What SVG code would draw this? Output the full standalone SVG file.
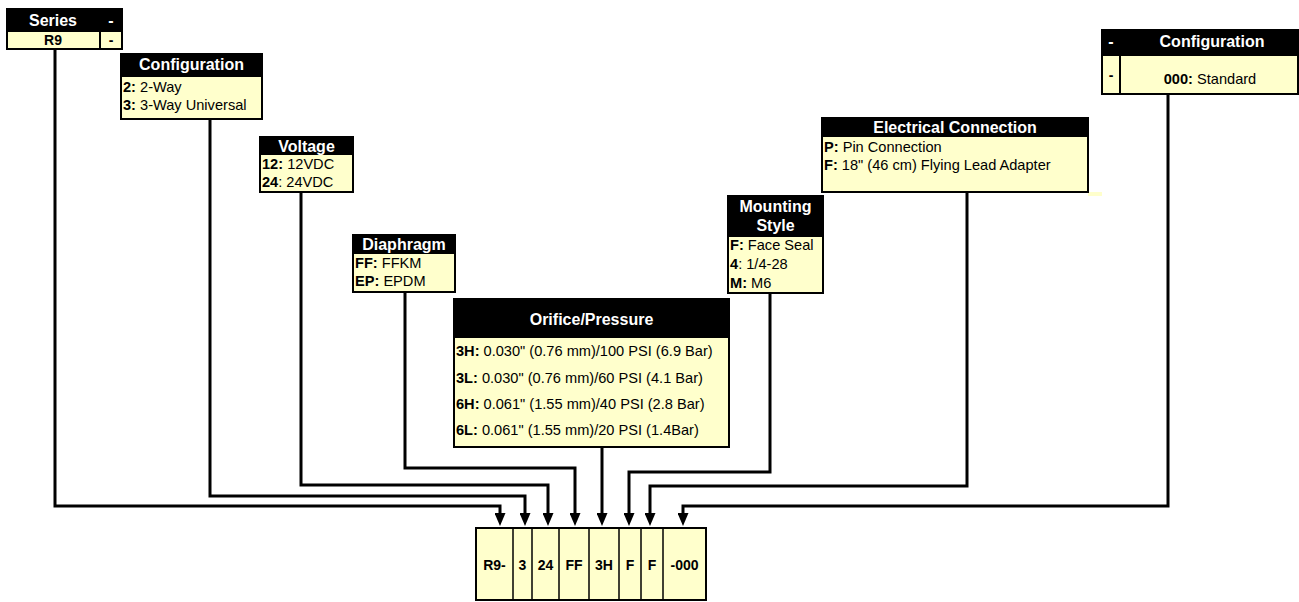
<svg xmlns="http://www.w3.org/2000/svg" width="1299" height="602" viewBox="0 0 1299 602">
<style>
.hdr{fill:#000;stroke:#000;stroke-width:2}
.box{fill:#FFFFCC;stroke:#000;stroke-width:2}
.ht{font-family:"Liberation Sans",Arial,sans-serif;font-size:16px;font-weight:bold;fill:#fff}
.t{font-family:"Liberation Sans",Arial,sans-serif;font-size:14.6px;fill:#000}
.b{font-weight:bold}
.ct{font-family:"Liberation Sans",Arial,sans-serif;font-size:14px;font-weight:bold;fill:#000}
.mid{text-anchor:middle}
.conn{fill:none;stroke:#000;stroke-width:3;stroke-linejoin:miter}
</style>
<defs>
<marker id="ah" markerUnits="userSpaceOnUse" markerWidth="13" markerHeight="11" viewBox="0 0 13 11" refX="0" refY="5.5" orient="auto">
<path d="M0,0 L13,5.5 L0,11 z" fill="#000"/>
</marker>
</defs>
<rect width="1299" height="602" fill="#fff"/>

<g id="connectors">
<path class="conn" d="M55,49 V506 H500 V513" marker-end="url(#ah)"/>
<path class="conn" d="M210,119 V496 H525 V513" marker-end="url(#ah)"/>
<path class="conn" d="M301,192 V485 H548 V513" marker-end="url(#ah)"/>
<path class="conn" d="M405,292 V468 H575 V513" marker-end="url(#ah)"/>
<path class="conn" d="M602,447 V513" marker-end="url(#ah)"/>
<path class="conn" d="M770,293 V472 H629 V513" marker-end="url(#ah)"/>
<path class="conn" d="M967,192 V486 H650 V513" marker-end="url(#ah)"/>
<path class="conn" d="M1168,94 V506 H683 V513" marker-end="url(#ah)"/>
</g>

<g id="series">
<rect class="box" x="7" y="9" width="115" height="40"/>
<rect class="hdr" x="7" y="9" width="115" height="22"/>
<line x1="100" y1="31" x2="100" y2="49" stroke="#000" stroke-width="2"/>
<text class="ht mid" x="53" y="26">Series</text>
<text class="ht mid" x="111" y="26">-</text>
<text class="ct mid" x="53" y="45">R9</text>
<text class="ct mid" x="111" y="45">-</text>
</g>

<g id="configuration-left">
<rect class="box" x="121" y="54" width="141" height="65"/>
<rect class="hdr" x="121" y="54" width="141" height="22"/>
<text class="ht mid" x="191.5" y="70">Configuration</text>
<text class="t" x="123" y="92"><tspan class="b">2:</tspan> 2-Way</text>
<text class="t" x="123" y="110"><tspan class="b">3:</tspan> 3-Way Universal</text>
</g>

<g id="voltage">
<rect class="box" x="260" y="137" width="93" height="55"/>
<rect class="hdr" x="260" y="137" width="93" height="17"/>
<text class="ht mid" x="306.5" y="152">Voltage</text>
<text class="t" x="262" y="169"><tspan class="b">12:</tspan> 12VDC</text>
<text class="t" x="262" y="187"><tspan class="b">24</tspan>: 24VDC</text>
</g>

<g id="diaphragm">
<rect class="box" x="353" y="235" width="102" height="57"/>
<rect class="hdr" x="353" y="235" width="102" height="18"/>
<text class="ht mid" x="404" y="250">Diaphragm</text>
<text class="t" x="355" y="268"><tspan class="b">FF:</tspan> FFKM</text>
<text class="t" x="355" y="286"><tspan class="b">EP:</tspan> EPDM</text>
</g>

<g id="orifice-pressure">
<rect class="box" x="454" y="299" width="275" height="148"/>
<rect class="hdr" x="454" y="299" width="275" height="38"/>
<text class="ht mid" x="591.5" y="325">Orifice/Pressure</text>
<text class="t" x="456" y="356"><tspan class="b">3H:</tspan> 0.030" (0.76 mm)/100 PSI (6.9 Bar)</text>
<text class="t" x="456" y="383"><tspan class="b">3L:</tspan> 0.030" (0.76 mm)/60 PSI (4.1 Bar)</text>
<text class="t" x="456" y="409"><tspan class="b">6H:</tspan> 0.061" (1.55 mm)/40 PSI (2.8 Bar)</text>
<text class="t" x="456" y="435"><tspan class="b">6L:</tspan> 0.061" (1.55 mm)/20 PSI (1.4Bar)</text>
</g>

<g id="mounting-style">
<rect class="box" x="728" y="196" width="95" height="97"/>
<rect class="hdr" x="728" y="196" width="95" height="40"/>
<text class="ht mid" x="775.5" y="212">Mounting</text>
<text class="ht mid" x="775.5" y="231">Style</text>
<text class="t" x="730" y="250"><tspan class="b">F:</tspan> Face Seal</text>
<text class="t" x="730" y="269"><tspan class="b">4</tspan>: 1/4-28</text>
<text class="t" x="730" y="288"><tspan class="b">M:</tspan> M6</text>
</g>

<g id="electrical-connection">
<rect x="1088" y="192" width="14" height="4" fill="#FFFFCC"/>
<rect class="box" x="822" y="118" width="266" height="74"/>
<rect class="hdr" x="822" y="118" width="266" height="18"/>
<text class="ht mid" x="955" y="133">Electrical Connection</text>
<text class="t" x="824" y="152"><tspan class="b">P:</tspan> Pin Connection</text>
<text class="t" x="824" y="170"><tspan class="b">F:</tspan> 18" (46 cm) Flying Lead Adapter</text>
</g>

<g id="configuration-right">
<rect class="box" x="1102" y="30" width="196" height="64"/>
<rect class="hdr" x="1102" y="30" width="196" height="25"/>
<line x1="1120" y1="55" x2="1120" y2="94" stroke="#000" stroke-width="2"/>
<text class="ht mid" x="1111" y="47">-</text>
<text class="ht mid" x="1212" y="47">Configuration</text>
<text class="ct mid" x="1111" y="80">-</text>
<text class="t mid" x="1210" y="84"><tspan class="b">000:</tspan> Standard</text>
</g>

<g id="part-number">
<rect class="box" x="476" y="528" width="230" height="72"/>
<g stroke="#000" stroke-width="1.5">
<line x1="513" y1="528" x2="513" y2="600"/>
<line x1="532" y1="528" x2="532" y2="600"/>
<line x1="559" y1="528" x2="559" y2="600"/>
<line x1="589" y1="528" x2="589" y2="600"/>
<line x1="619" y1="528" x2="619" y2="600"/>
<line x1="641" y1="528" x2="641" y2="600"/>
<line x1="663" y1="528" x2="663" y2="600"/>
</g>
<text class="ct mid" x="494.5" y="570">R9-</text>
<text class="ct mid" x="522.5" y="570">3</text>
<text class="ct mid" x="545.5" y="570">24</text>
<text class="ct mid" x="574" y="570">FF</text>
<text class="ct mid" x="604" y="570">3H</text>
<text class="ct mid" x="630" y="570">F</text>
<text class="ct mid" x="652" y="570">F</text>
<text class="ct mid" x="684.5" y="570">-000</text>
</g>
</svg>
